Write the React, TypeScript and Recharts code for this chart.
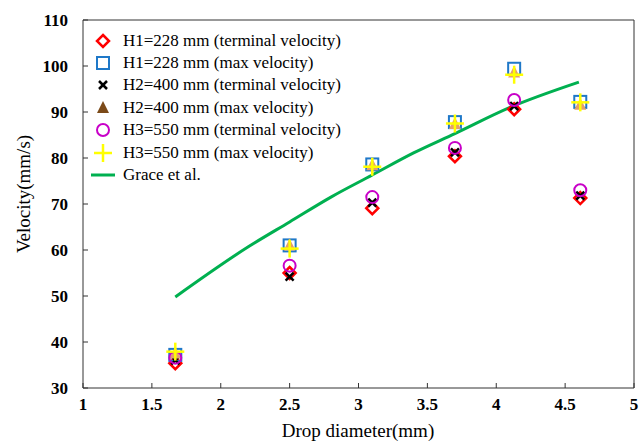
import React from "react";
import { ScatterChart, Scatter, XAxis, YAxis, ReferenceLine } from "recharts";

const diameters = [1.67, 2.5, 3.1, 3.7, 4.13, 4.61];
const h1Terminal = [35.4, 55.0, 69.1, 80.4, 90.6, 71.3];
const h1Max = [37.2, 61.0, 78.6, 87.8, 99.4, 92.2];
const h2Terminal = [36.0, 54.2, 70.3, 81.2, 91.3, 71.8];
const h2Max = [37.5, 61.0, 78.4, 87.4, 98.6, 91.6];
const h3Terminal = [36.6, 56.6, 71.5, 82.2, 92.6, 73.0];
const h3Max = [37.9, 60.3, 78.1, 87.5, 98.1, 92.1];

const graceDiameters = [1.67, 2.2, 2.5, 2.8, 3.1, 3.4, 3.7, 4.1, 4.6];
const graceVelocity = [49.8, 60.7, 66.1, 71.5, 76.3, 81.1, 85.3, 91.0, 96.5];

const xTicks = [1, 1.5, 2, 2.5, 3, 3.5, 4, 4.5, 5];
const yTicks = [30, 40, 50, 60, 70, 80, 90, 100, 110];

const FONT = "Liberation Serif, DejaVu Serif, serif";
const AXIS = "#333333";

const toPoints = (ys: number[], xs: number[] = diameters) => xs.map((x, i) => ({ x, y: ys[i] }));

type P = { cx?: number; cy?: number };

const Diamond = ({ cx = 0, cy = 0 }: P) => (
  <polygon
    points={`${cx},${cy - 6} ${cx + 6},${cy} ${cx},${cy + 6} ${cx - 6},${cy}`}
    fill="none"
    stroke="#FF0000"
    strokeWidth={2.5}
  />
);
const Square = ({ cx = 0, cy = 0 }: P) => (
  <rect x={cx - 6} y={cy - 6} width={12} height={12} fill="none" stroke="#1F78C8" strokeWidth={2} />
);
const Cross = ({ cx = 0, cy = 0 }: P) => (
  <g stroke="#000" strokeWidth={2.5}>
    <line x1={cx - 4} y1={cy - 4} x2={cx + 4} y2={cy + 4} />
    <line x1={cx - 4} y1={cy + 4} x2={cx + 4} y2={cy - 4} />
  </g>
);
const Triangle = ({ cx = 0, cy = 0, color = "#E3A06C" }: P & { color?: string }) => (
  <polygon points={`${cx},${cy - 7} ${cx + 6},${cy + 5} ${cx - 6},${cy + 5}`} fill={color} />
);
const Circle = ({ cx = 0, cy = 0 }: P) => (
  <circle cx={cx} cy={cy} r={6} fill="none" stroke="#C800C8" strokeWidth={2} />
);
const Plus = ({ cx = 0, cy = 0 }: P) => (
  <g stroke="#FFFF00" strokeWidth={2.5}>
    <line x1={cx - 9} y1={cy} x2={cx + 9} y2={cy} />
    <line x1={cx} y1={cy - 9} x2={cx} y2={cy + 9} />
  </g>
);
const GreenDash = ({ cx = 0, cy = 0 }: P) => (
  <line x1={cx - 12} y1={cy} x2={cx + 12} y2={cy} stroke="#00B050" strokeWidth={3} />
);

const legendItems = [
  { name: "H1=228 mm (terminal velocity)", Icon: Diamond },
  { name: "H1=228 mm (max velocity)", Icon: Square },
  { name: "H2=400 mm (terminal velocity)", Icon: Cross },
  { name: "H2=400 mm (max velocity)", Icon: (p: P) => <Triangle {...p} color="#7B4A18" /> },
  { name: "H3=550 mm (terminal velocity)", Icon: Circle },
  { name: "H3=550 mm (max velocity)", Icon: Plus },
  { name: "Grace et al.", Icon: GreenDash },
];

function LegendBox() {
  return (
    <div style={{ position: "absolute", left: 88, top: 29.5, fontFamily: FONT, fontSize: 17, color: "#000" }}>
      {legendItems.map(({ name, Icon }) => (
        <div key={name} style={{ display: "flex", alignItems: "center", height: 22.4 }}>
          <svg width={30} height={22}>
            <Icon cx={15} cy={11} />
          </svg>
          <span style={{ marginLeft: 5, whiteSpace: "nowrap" }}>{name}</span>
        </div>
      ))}
    </div>
  );
}

export default function App() {
  const tickStyle = { fill: "#000", fontSize: 17, fontWeight: "bold", fontFamily: FONT };
  return (
    <div style={{ position: "absolute", left: 0, top: 0, width: 640, height: 445, background: "#fff" }}>
      <ScatterChart width={640} height={445} margin={{ top: 20, right: 6, bottom: 0, left: 0 }}>
        <XAxis
          type="number"
          dataKey="x"
          domain={[1, 5]}
          ticks={xTicks}
          allowDataOverflow
          height={57}
          tick={tickStyle}
          tickSize={-5}
          tickMargin={15}
          axisLine={{ stroke: AXIS }}
          tickLine={{ stroke: AXIS }}
          label={() => (
            <text x={358} y={437} textAnchor="middle" fontFamily={FONT} fontSize={19} fill="#000">
              Drop diameter(mm)
            </text>
          )}
        />
        <YAxis
          type="number"
          dataKey="y"
          domain={[30, 110]}
          ticks={yTicks}
          allowDataOverflow
          width={83}
          tick={tickStyle}
          tickSize={-5}
          tickMargin={20}
          axisLine={{ stroke: AXIS }}
          tickLine={{ stroke: AXIS }}
          label={() => (
            <text
              transform="translate(23,194) rotate(-90)"
              textAnchor="middle"
              dominantBaseline="central"
              fontFamily={FONT}
              fontSize={19}
              fill="#000"
            >
              Velocity(mm/s)
            </text>
          )}
        />
        <ReferenceLine y={110} stroke={AXIS} ifOverflow="visible" />
        <ReferenceLine x={5} stroke={AXIS} ifOverflow="visible" />
        <Scatter
          name="Grace et al."
          data={toPoints(graceVelocity, graceDiameters)}
          line={{ stroke: "#00B050", strokeWidth: 3 }}
          lineJointType="monotoneX"
          shape={() => <g />}
          isAnimationActive={false}
        />
        <Scatter name="H1 terminal" data={toPoints(h1Terminal)} shape={(p: P) => <Diamond {...p} />} isAnimationActive={false} />
        <Scatter name="H1 max" data={toPoints(h1Max)} shape={(p: P) => <Square {...p} />} isAnimationActive={false} />
        <Scatter name="H2 terminal" data={toPoints(h2Terminal)} shape={(p: P) => <Cross {...p} />} isAnimationActive={false} />
        <Scatter name="H2 max" data={toPoints(h2Max)} shape={(p: P) => <Triangle {...p} />} isAnimationActive={false} />
        <Scatter name="H3 terminal" data={toPoints(h3Terminal)} shape={(p: P) => <Circle {...p} />} isAnimationActive={false} />
        <Scatter name="H3 max" data={toPoints(h3Max)} shape={(p: P) => <Plus {...p} />} isAnimationActive={false} />
      </ScatterChart>
      <LegendBox />
    </div>
  );
}
